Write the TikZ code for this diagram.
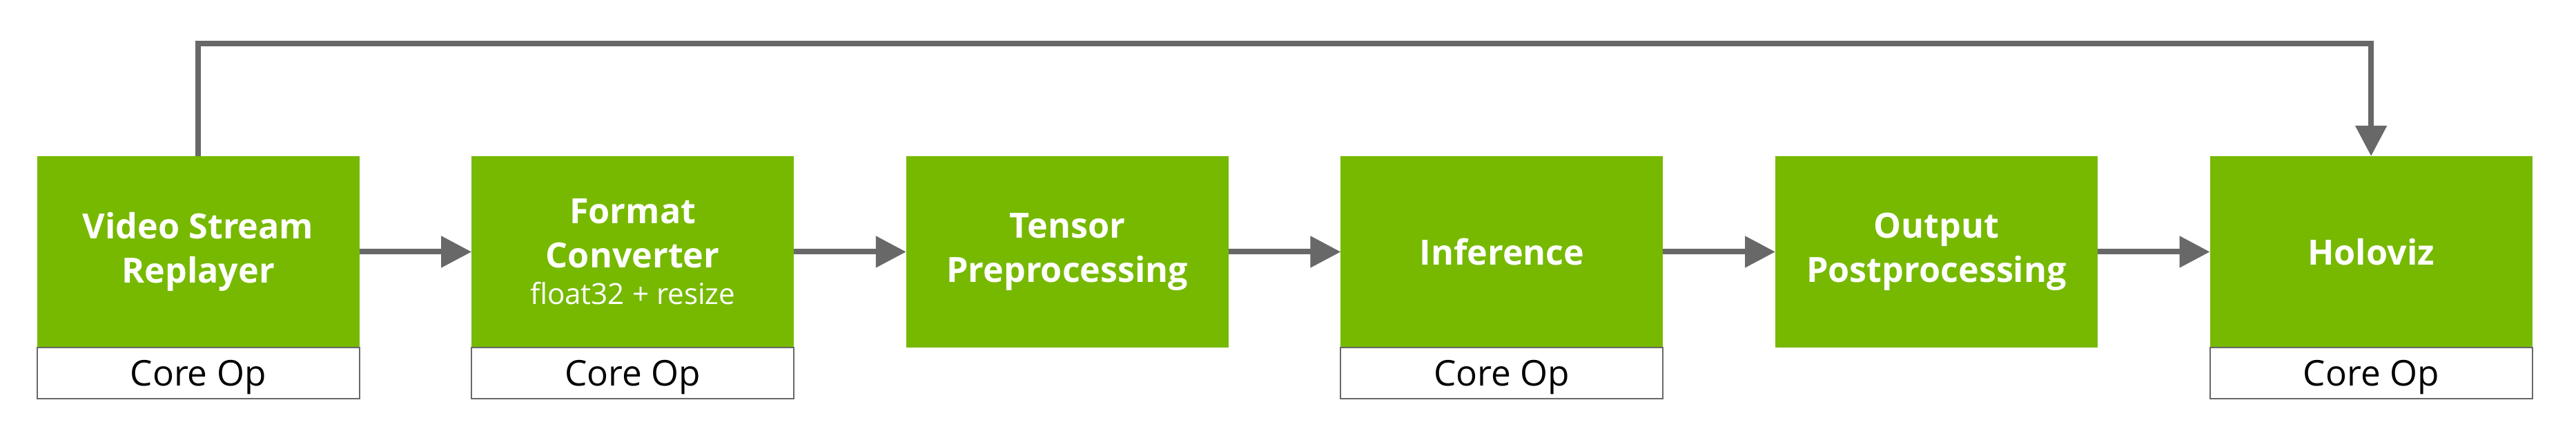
\documentclass[tikz,border=0pt]{standalone}
\usepackage{fontspec}
\setmainfont{Open Sans}
\usepackage{xcolor}
\usetikzlibrary{positioning}
\usetikzlibrary{arrows.meta}

\definecolor{nvgreen}{RGB}{118,185,0}
\definecolor{linkgray}{RGB}{104,104,104}

\begin{document}
\begin{tikzpicture}[
stage/.style={fill=nvgreen, text=white, align=center, inner sep=0pt, outer sep=0pt,
  minimum width=4.67cm, minimum height=2.77cm, font=\fontsize{14.3}{18.2}\selectfont\bfseries},
coreop/.style={draw=linkgray, line width=0.6pt, fill=white, inner sep=0pt, outer sep=0pt,
  text depth=0pt, minimum width=4.67cm, minimum height=0.74cm, font=\fontsize{14.6}{17}\selectfont},
link/.style={draw=linkgray, line width=0.08cm, -{Triangle[length=0.44cm, width=0.44cm]}}
]

% frame %
\fill[white] (0,0) rectangle (37.32,6.18);
\useasboundingbox (0,0) rectangle (37.32,6.18);

%%%%%%%%%%%%  Stages %%%%%%%%%%%%%
{
\node[stage] (replay) at (2.871,2.535) {Video Stream\\Replayer};
\node[stage, right=1.626cm of replay] (convert) {Format\\Converter\\[-3.2pt]{\fontsize{12}{15}\selectfont\mdseries float32 + resize}};
\node[stage, right=1.626cm of convert] (tensor) {Tensor\\Preprocessing};
\node[stage, right=1.626cm of tensor] (infer) {Inference};
\node[stage, right=1.626cm of infer] (post) {Output\\Postprocessing};
\node[stage, right=1.626cm of post] (holo) {Holoviz};
}

% core op tags
{
\node[coreop, below=0pt of replay] (replayop) {Core Op};
\node[coreop, below=0pt of convert] (convertop) {Core Op};
\node[coreop, below=0pt of infer] (inferop) {Core Op};
\node[coreop, below=0pt of holo] (holoop) {Core Op};
}

% links
{
\draw[link] (replay) -- (convert);
\draw[link] (convert) -- (tensor);
\draw[link] (tensor) -- (infer);
\draw[link] (infer) -- (post);
\draw[link] (post) -- (holo);

\draw[link] (replay.north) -- ++(0,1.63) -| (holo.north);
}

\end{tikzpicture}
\end{document}
